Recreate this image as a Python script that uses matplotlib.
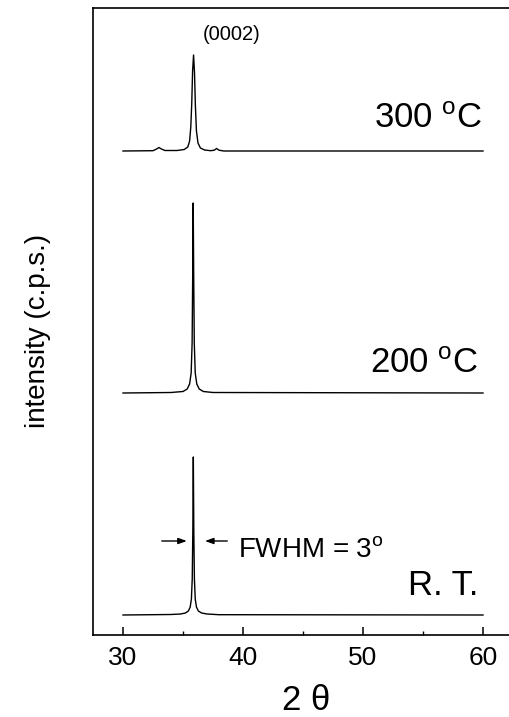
import matplotlib
matplotlib.use("Agg")
import matplotlib.pyplot as plt

plt.rcParams['font.family'] = ['Liberation Sans', 'DejaVu Sans']
plt.rcParams['mathtext.default'] = 'regular'

# Dados (2 theta em graus, intensidade em unidades arbitrárias)
x_rt = [30, 34.0, 34.8, 35.2, 35.45, 35.6, 35.7, 35.77, 35.82, 35.86,
        35.90, 35.95, 36.02, 36.12, 36.28, 36.55, 37.0, 38.0, 60]
y_rt = [0, 0.5, 1, 2, 4, 8, 16, 36, 85, 158,
        85, 36, 16, 8, 4, 2, 1, 0.3, 0]

x_200 = [30, 34.0, 35.0, 35.35, 35.55, 35.68, 35.76, 35.81, 35.85,
         35.89, 35.94, 36.02, 36.15, 36.35, 36.7, 37.5, 60]
y_200 = [0, 0.5, 1.5, 4, 9, 20, 50, 120, 190,
         120, 50, 20, 9, 4, 1.5, 0.5, 0]

x_300 = [30, 32.5, 32.8, 33.0, 33.2, 33.5, 34.5, 35.1, 35.4, 35.55, 35.65,
         35.73, 35.8, 35.88, 35.96, 36.03, 36.12, 36.25, 36.45, 36.8, 37.3,
         37.6, 37.8, 38.0, 38.4, 60]
y_300 = [0, 0.3, 2, 3.5, 2, 0.5, 0.5, 1.5, 4, 10, 24,
         48, 80, 96, 78, 46, 20, 8, 3, 1, 0.3,
         0.8, 2.5, 0.8, 0, 0]

# deslocamento vertical de cada curva
offset_rt = 20
offset_200 = 242
offset_300 = 484

fig = plt.figure(figsize=(5.10, 7.17), dpi=100)
ax = fig.add_axes([93 / 510, 1 - 635 / 717, 1 - 93 / 510, 627 / 717])

for xs, ys, off in [(x_rt, y_rt, offset_rt),
                    (x_200, y_200, offset_200),
                    (x_300, y_300, offset_300)]:
    ax.plot(xs, [v + off for v in ys], color='black', lw=1.0)

ax.set_xlim(27.5, 62.25)
ax.set_ylim(0, 627)

ax.set_xticks([30, 40, 50, 60])
ax.set_xticks([35, 45, 55], minor=True)
ax.set_yticks([])
ax.tick_params(axis='x', which='major', direction='in', length=6, width=1.1,
               labelsize=19, pad=8)
ax.tick_params(axis='x', which='minor', direction='in', length=3, width=1.0)
ax.spines['right'].set_visible(False)
for s in ['left', 'bottom', 'top']:
    ax.spines[s].set_linewidth(1.2)

# rótulos
fig.text(306 / 510, 1 - 700 / 717, '2 θ', ha='center', va='center', fontsize=25)
fig.text(38 / 510, 1 - 331 / 717, 'intensity (c.p.s.)', ha='center', va='center',
         rotation=90, fontsize=20)

ax.text(59.92, 507, '300 $^{o}$C', ha='right', va='baseline', fontsize=25)
ax.text(59.58, 262, '200 $^{o}$C', ha='right', va='baseline', fontsize=25)
ax.text(59.58, 40, 'R. T.', ha='right', va='baseline', fontsize=25)
ax.text(39.04, 595, '(0002)', ha='center', va='baseline', fontsize=14.5)
ax.text(39.58, 78, 'FWHM = 3$^{o}$', ha='left', va='baseline', fontsize=20)

arrow = dict(arrowstyle='-|>,head_length=0.5,head_width=0.18', color='black', lw=1)
ax.annotate('', xy=(35.55, 94), xytext=(33.0, 94), arrowprops=arrow)
ax.annotate('', xy=(36.6, 94), xytext=(38.92, 94), arrowprops=arrow)

fig.savefig('out.png', dpi=100)
